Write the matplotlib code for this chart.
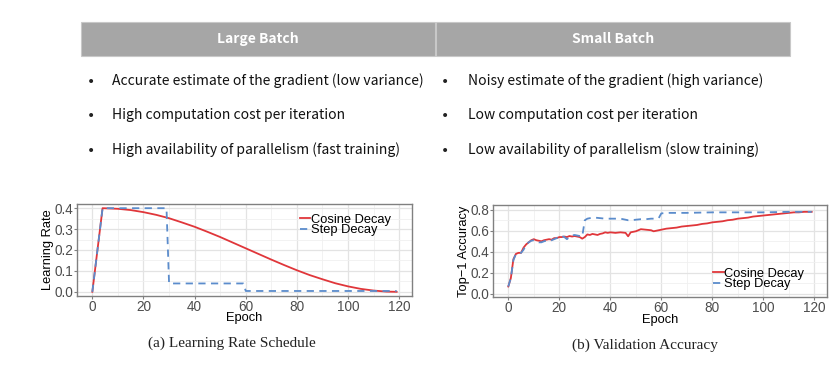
import matplotlib
matplotlib.use("Agg")
import matplotlib.pyplot as plt
from matplotlib.patches import Rectangle
from matplotlib.ticker import MultipleLocator, FormatStrFormatter

# table text
headers = ["Large Batch", "Small Batch"]
large_points = ["Accurate estimate of the gradient (low variance)",
                "High computation cost per iteration",
                "High availability of parallelism (fast training)"]
small_points = ["Noisy estimate of the gradient (high variance)",
                "Low computation cost per iteration",
                "Low availability of parallelism (slow training)"]

# (a) learning rate schedule
lr_epoch = [0, 4, 10, 15, 20, 25, 30, 35, 40, 45, 50, 55, 60, 65, 70, 75,
            80, 85, 90, 95, 100, 105, 110, 115, 119]
lr_cosine = [0.0, 0.4, 0.397, 0.391, 0.381, 0.368, 0.352, 0.332, 0.311, 0.287,
             0.262, 0.235, 0.208, 0.181, 0.154, 0.128, 0.103, 0.080, 0.060,
             0.041, 0.026, 0.014, 0.006, 0.001, 0.0]
step_epoch = [0, 4, 29, 30, 59, 60, 119]
lr_step = [0.0, 0.4, 0.4, 0.04, 0.04, 0.004, 0.004]

# (b) validation accuracy
acc_cos_epoch = list(range(0, 41)) + [42, 44, 46, 47, 48, 50, 52, 54, 56, 57, 58, 60,
                                      62, 64, 66, 68, 70, 72, 74, 76, 78, 80, 82, 84,
                                      86, 88, 90, 92, 94, 96, 98, 100, 102, 104, 106,
                                      108, 110, 112, 114, 116, 119]
acc_cos = [0.07, 0.15, 0.33, 0.38, 0.39, 0.39, 0.44, 0.47, 0.49, 0.51,
           0.52, 0.51, 0.505, 0.50, 0.51, 0.515, 0.52, 0.515, 0.53, 0.53,
           0.54, 0.54, 0.545, 0.54, 0.55, 0.545, 0.55, 0.545, 0.54, 0.525,
           0.54, 0.565, 0.56, 0.57, 0.565, 0.56, 0.57, 0.575, 0.585, 0.58,
           0.585,
           0.58, 0.585, 0.58, 0.547, 0.585, 0.595, 0.615, 0.61, 0.605, 0.595, 0.60, 0.61,
           0.62, 0.625, 0.63, 0.64, 0.645, 0.65, 0.655, 0.665, 0.67, 0.68, 0.685, 0.69,
           0.70, 0.705, 0.715, 0.72, 0.725, 0.735, 0.74, 0.745, 0.75, 0.755, 0.76,
           0.765, 0.77, 0.775, 0.775, 0.78, 0.78]
acc_step_epoch = list(range(0, 31)) + [31, 32, 34, 36, 38, 40, 42, 44, 46, 47, 48, 50,
                                       52, 54, 56, 58, 59, 60, 62, 66, 70, 80, 90,
                                       100, 110, 119]
acc_step = [0.07, 0.15, 0.32, 0.38, 0.385, 0.39, 0.42, 0.47, 0.49, 0.505,
            0.51, 0.505, 0.49, 0.49, 0.50, 0.505, 0.50, 0.51, 0.52, 0.53,
            0.55, 0.55, 0.54, 0.52, 0.54, 0.555, 0.56, 0.555, 0.55, 0.545,
            0.70,
            0.715, 0.72, 0.725, 0.72, 0.715, 0.715, 0.715, 0.715, 0.705, 0.70, 0.70, 0.705,
            0.71, 0.71, 0.715, 0.715, 0.72, 0.765, 0.77, 0.77, 0.77, 0.775, 0.775,
            0.775, 0.78, 0.78]

RED = "#e0363a"
BLUE = "#5b8ccc"
GRAY_TXT = "#4d4d4d"
SANS = "Liberation Sans"
FS = 9.3

W, H = 837, 374
fig = plt.figure(figsize=(W / 100, H / 100), dpi=100)


def fx(px):
    return px / W


def fy(py):
    return 1 - py / H


# header bar
hdr_x = [(81, 435.5), (436.5, 790)]
for (x0, x1), name in zip(hdr_x, headers):
    fig.add_artist(Rectangle((fx(x0), fy(55.5)), fx(x1) - fx(x0), fy(22) - fy(55.5),
                             transform=fig.transFigure, facecolor="#a6a6a6",
                             edgecolor="#c8c8c8", lw=0.8))
    fig.text(fx((x0 + x1) / 2), fy(39), name, color="white", weight="bold",
             family="Noto Sans CJK KR", size=10, ha="center", va="center")

rows_y = [81, 115, 150]
for col, (bx, tx) in zip([large_points, small_points], [(91, 112), (445, 468)]):
    for ry, txt in zip(rows_y, col):
        fig.text(fx(bx), fy(ry + 1), "\u2022", size=10, ha="center", va="center",
                 color="#222222", family="DejaVu Sans")
        fig.text(fx(tx), fy(ry), txt, size=10.05, ha="left", va="center",
                 color="#111111", family="Noto Sans CJK KR")


def style(ax):
    ax.set_facecolor("white")
    ax.grid(which="major", color="#e3e3e3", lw=0.9)
    ax.grid(which="minor", color="#f0f0f0", lw=0.6)
    ax.set_axisbelow(True)
    for s in ax.spines.values():
        s.set_color("#808080")
        s.set_linewidth(1.0)
    ax.tick_params(which="major", length=2, width=0.8, color="#808080",
                   labelcolor=GRAY_TXT, labelsize=FS + 0.5, pad=0.8)
    ax.tick_params(which="minor", length=0)
    ax.xaxis.set_major_locator(MultipleLocator(20))
    ax.xaxis.set_minor_locator(MultipleLocator(10))
    ax.set_xlim(-6, 125)
    ax.yaxis.set_major_formatter(FormatStrFormatter("%.1f"))
    for lab in ax.get_xticklabels() + ax.get_yticklabels():
        lab.set_family(SANS)
    ax.set_xlabel("Epoch", family=SANS, size=FS, labelpad=-1)


def add_legend(ax, anchor):
    ax.legend(loc="upper left", bbox_to_anchor=anchor, frameon=False,
              prop={"family": SANS, "size": FS}, handlelength=0.8, handletextpad=0.05,
              labelspacing=-0.12, borderpad=0, borderaxespad=0)


ax1 = fig.add_axes([fx(77), fy(296), fx(412) - fx(77), fy(204) - fy(296)])
ax1.plot(lr_epoch, lr_cosine, color=RED, lw=1.3, label="Cosine Decay")
ax1.plot(step_epoch, lr_step, color=BLUE, lw=1.3, ls=(0, (4, 3)), label="Step Decay")
ax1.set_ylim(-0.02, 0.42)
ax1.yaxis.set_major_locator(MultipleLocator(0.1))
ax1.yaxis.set_minor_locator(MultipleLocator(0.05))
style(ax1)
ax1.set_ylabel("Learning Rate", family=SANS, size=FS, labelpad=0)
add_legend(ax1, (0.665, 0.895))

ax2 = fig.add_axes([fx(493), fy(297), fx(827) - fx(493), fy(205) - fy(297)])
ax2.plot(acc_cos_epoch, acc_cos, color=RED, lw=1.3, label="Cosine Decay")
ax2.plot(acc_step_epoch, acc_step, color=BLUE, lw=1.3, ls=(0, (4, 3)), label="Step Decay")
ax2.set_ylim(-0.03, 0.845)
ax2.yaxis.set_major_locator(MultipleLocator(0.2))
ax2.yaxis.set_minor_locator(MultipleLocator(0.1))
style(ax2)
ax2.set_ylabel("Top\u22121 Accuracy", family=SANS, size=FS, labelpad=0)
add_legend(ax2, (0.66, 0.32))

fig.text(fx(232), fy(343), "(a) Learning Rate Schedule", family="Liberation Serif",
         size=11, ha="center", va="center", color="#222222")
fig.text(fx(645), fy(345), "(b) Validation Accuracy", family="Liberation Serif",
         size=11, ha="center", va="center", color="#222222")

fig.savefig("out.png", dpi=100)
